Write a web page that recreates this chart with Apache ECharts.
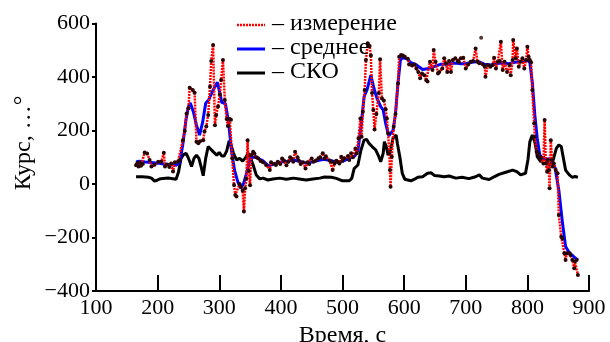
<!DOCTYPE html>
<html>
<head>
<meta charset="utf-8">
<script src="https://cdn.jsdelivr.net/npm/echarts@6/dist/echarts.min.js"></script>
<style>
  html, body { margin: 0; padding: 0; background: #fff; }
  #chart { width: 610px; height: 342px; }
</style>
</head>
<body>
<div id="chart"></div>
<script>
// Измерение курса: время, с
const measTime = [165,167,169,171,173,176,179,183,187,190,195,201,206,210,212,215,219,222,225,228,233,236,241,244,247,250,252,257,260,263,266,269,274,276,279,282,285,287,290,293,295,298,301,303,306,309,312,314,317,319,321,324,326,328,333,335,338,340,342,344,346,348,350,352,355,357,360,363,367,371,376,382,384,389,392,395,399,402,405,409,412,415,417,420,423,427,429,432,436,440,443,446,450,453,457,461,464,468,471,473,479,482,484,487,490,492,495,498,500,503,509,511,514,517,521,523,526,529,531,533,536,538,541,544,546,548,550,552,555,559,561,564,567,570,572,574,576,577,578,580,583,586,590,592,595,598,601,606,608,613,617,620,623,626,629,633,636,638,642,646,648,651,655,657,662,665,668,670,673,676,679,683,687,689,692,696,700,704,708,712,716,719,722,728,731,732,736,740,744,746,749,752,755,757,760,763,767,771,773,776,777,781,783,786,789,792,795,798,800,802,804,806,808,811,812,815,817,820,822,826,828,830,832,833,835,836,838,840,841,843,846,849,851,855,857,860,862,864,868,870,873,876,877,880,882];
// Измерение курса: значения, °
const measValue = [70,78,65,80,68,75,118,114,90,65,72,83,83,117,65,73,64,77,47,81,83,90,164,198,264,283,360,351,341,158,152,160,164,196,215,258,364,460,520,220,258,290,335,389,464,314,243,217,243,240,96,-4,-41,-47,0,-10,-25,-103,-16,20,164,50,-5,108,121,114,100,96,86,81,71,52,81,75,71,83,75,95,88,70,83,100,95,83,121,100,88,75,81,58,81,75,95,83,88,96,100,115,95,104,88,83,52,77,87,83,77,102,87,96,105,90,115,100,133,115,171,245,177,270,351,464,526,516,480,340,277,204,262,340,466,320,312,279,245,190,115,52,-10,102,214,262,376,476,482,480,476,468,447,443,447,432,419,395,413,407,388,383,457,426,501,457,413,419,432,470,451,419,460,419,464,470,460,455,470,472,432,447,457,460,507,457,451,447,438,401,445,438,445,472,432,457,460,532,426,457,419,445,407,464,538,470,507,438,457,470,432,464,513,476,464,455,351,227,177,121,115,102,96,77,239,77,46,90,52,-16,164,90,65,77,52,40,-116,-197,-204,-259,-284,-259,-259,-265,-284,-315,-290,-284,-340];

// Отдельная точка без соединения с кривой
const strayTime = [725];
const strayValue = [547];

// Среднее
const meanTime = [165,170,180,190,200,210,220,230,236,241,246,250,253,258,263,268,273,278,283,290,297,301,304,310,315,320,325,330,335,340,345,350,355,360,370,380,390,400,410,420,430,440,450,460,470,480,490,500,510,520,525,530,535,540,546,551,556,562,566,570,575,578,582,586,590,594,598,605,610,620,630,640,650,660,670,680,690,700,710,720,730,740,750,760,770,780,790,800,804,808,812,816,820,825,830,835,840,845,851,857,862,867,872,877,882];
const meanValue = [82,85,82,80,78,75,72,70,80,150,240,290,303,270,220,183,230,302,315,351,380,340,305,300,233,121,50,9,-16,5,46,96,100,100,88,68,75,82,85,90,85,78,82,88,92,88,82,85,95,105,125,214,326,354,407,358,320,289,277,227,180,175,200,262,376,464,472,468,455,445,428,432,440,448,448,452,450,450,455,458,448,445,450,452,450,455,458,462,455,380,260,170,110,95,92,95,85,60,-22,-146,-234,-253,-265,-275,-285];

// СКО
const sdTime = [165,175,185,190,195,200,205,217,225,230,234,238,242,246,249,252,255,259,263,267,270,274,278,282,286,290,296,300,304,308,312,316,318,320,323,328,333,338,342,347,351,355,360,366,371,379,387,398,409,420,430,441,452,463,471,482,490,500,511,515,519,525,530,535,539,543,548,554,559,562,566,568,571,574,578,582,587,589,593,597,601,606,611,617,622,630,638,644,649,657,665,673,684,694,705,716,722,727,738,746,754,765,776,783,789,797,801,804,808,812,815,816,819,822,826,830,835,841,843,847,851,855,858,862,868,873,877,880,882];
const sdValue = [27,27,25,22,11,15,20,22,20,18,46,96,110,115,102,85,65,96,108,96,70,31,96,140,131,121,108,118,105,105,123,161,164,140,115,90,96,86,96,115,96,71,34,19,22,15,19,22,18,22,19,15,19,22,26,25,21,12,12,21,58,71,127,164,167,152,140,127,102,83,115,158,140,108,127,171,183,152,102,40,18,15,12,18,25,27,40,42,32,30,27,30,22,25,20,27,34,22,17,27,36,44,52,46,34,40,92,158,183,158,121,102,108,83,102,90,71,83,90,133,146,140,102,52,34,25,28,34,25];

// Подписи
const xTitle = 'Время, с';
const yTitle = 'Курс, …°';
const legendNames = ['– измерение', '– среднее', '– СКО'];

const FONT = '"Liberation Serif", "Times New Roman", serif';

function pairs(xs, ys) { return xs.map((x, i) => [x, ys[i]]); }

const chart = echarts.init(document.getElementById('chart'), null, { renderer: 'canvas' });

// Легенда: образцы линий и подписи
const legendRows = [
  { y: 25, stroke: '#ff0000', width: 2.5, dash: [2, 1] },
  { y: 49, stroke: '#0000ff', width: 3, dash: null },
  { y: 73, stroke: '#000000', width: 3, dash: null }
];
const legendGraphics = [];
legendRows.forEach((r, i) => {
  legendGraphics.push({
    type: 'line',
    shape: { x1: 237, y1: r.y, x2: 265, y2: r.y },
    style: { stroke: r.stroke, lineWidth: r.width, lineDash: r.dash },
    z: 100
  });
  legendGraphics.push({
    type: 'text',
    x: 272, y: r.y - 1,
    style: {
      text: legendNames[i], fill: '#000', font: '24px ' + FONT,
      textAlign: 'left', textVerticalAlign: 'middle'
    },
    z: 100
  });
});
legendGraphics.push({
  type: 'text',
  x: 24, y: 143,
  rotation: Math.PI / 2,
  style: {
    text: yTitle, fill: '#000', font: '24px ' + FONT,
    textAlign: 'center', textVerticalAlign: 'middle'
  }
});

const axisLabelStyle = { color: '#000', fontFamily: FONT, fontSize: 22 };

chart.setOption({
  animation: false,
  backgroundColor: '#fff',
  grid: { left: 96, right: 21, top: 23.5, bottom: 51, containLabel: false, outerBoundsMode: 'none' },
  xAxis: {
    type: 'value', min: 100, max: 900, interval: 100,
    name: xTitle, nameLocation: 'middle', nameGap: 26,
    nameTextStyle: { color: '#000', fontFamily: FONT, fontSize: 24 },
    axisLine: { onZero: false, lineStyle: { color: '#000', width: 2 } },
    axisTick: { inside: true, length: 16, lineStyle: { color: '#000', width: 2 } },
    axisLabel: Object.assign({ margin: 6 }, axisLabelStyle),
    splitLine: { show: false }
  },
  yAxis: {
    type: 'value', min: -400, max: 600, interval: 200,
    axisLine: { show: true, onZero: false, lineStyle: { color: '#000', width: 2 } },
    axisTick: { show: true, inside: false, length: 4, lineStyle: { color: '#000', width: 2 } },
    axisLabel: Object.assign({
      margin: 6,
      formatter: v => (v < 0 ? '−' + Math.abs(v) : String(v))
    }, axisLabelStyle),
    splitLine: { show: false }
  },
  graphic: legendGraphics,
  series: [
    {
      name: 'СКО', type: 'line', data: pairs(sdTime, sdValue),
      showSymbol: false, smooth: false,
      lineStyle: { color: '#000', width: 3 }, z: 2
    },
    {
      name: 'среднее', type: 'line', data: pairs(meanTime, meanValue),
      showSymbol: false, smooth: false,
      lineStyle: { color: '#0000ff', width: 3 }, z: 3
    },
    {
      name: 'измерение', type: 'line', data: pairs(measTime, measValue),
      symbol: 'circle', symbolSize: 4, showAllSymbol: true,
      itemStyle: { color: '#2a0505', borderWidth: 0 },
      lineStyle: { color: '#ff0000', width: 2.5, type: [2, 1] }, z: 4
    },
    {
      name: 'выброс', type: 'scatter', data: pairs(strayTime, strayValue),
      symbol: 'circle', symbolSize: 4,
      itemStyle: { color: '#2a0505' }, z: 4
    }
  ]
});
</script>
</body>
</html>
